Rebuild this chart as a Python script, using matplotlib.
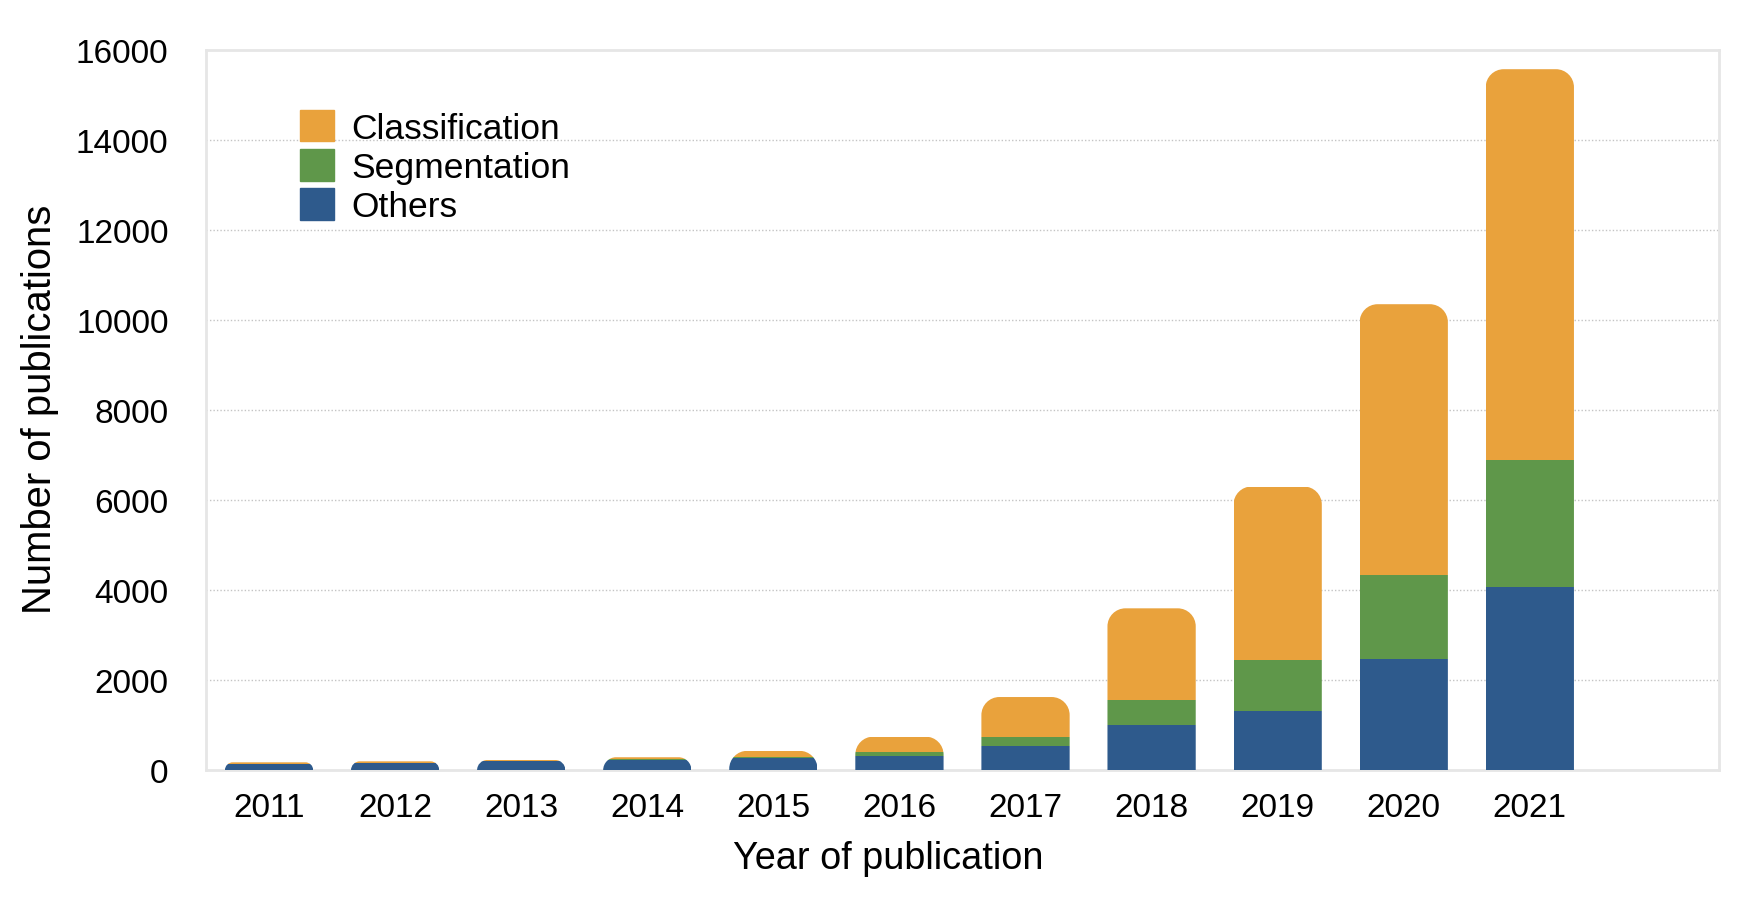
import numpy as np
import matplotlib
matplotlib.use("Agg")
import matplotlib.pyplot as plt
from matplotlib.patches import Patch
from matplotlib.path import Path
from matplotlib.transforms import IdentityTransform

plt.rcParams['font.family'] = ['Liberation Sans', 'DejaVu Sans']

# data
years = ['2011', '2012', '2013', '2014', '2015', '2016', '2017', '2018', '2019', '2020', '2021']
others = [128, 158, 195, 233, 280, 316, 541, 1012, 1320, 2466, 4069]
segmentation = [3, 4, 5, 8, 15, 90, 203, 540, 1128, 1870, 2819]
classification = [42, 33, 25, 45, 134, 338, 880, 2043, 3854, 6017, 8687]

c_others = '#2E5A8C'
c_seg = '#5F974A'
c_class = '#E9A23C'

fig = plt.figure(figsize=(17.46, 9.04), dpi=100)
ax = fig.add_axes([0.118, 0.147, 0.8665, 0.7965])

x = np.arange(len(years))
w = 0.7
others = np.array(others)
segmentation = np.array(segmentation)
classification = np.array(classification)

b1 = ax.bar(x, others, w, color=c_others, linewidth=0, zorder=3)
b2 = ax.bar(x, segmentation, w, bottom=others, color=c_seg, linewidth=0, zorder=3)
b3 = ax.bar(x, classification, w, bottom=others + segmentation, color=c_class,
            linewidth=0, zorder=3)

ax.set_xlim(-0.5, len(years) + 0.5)
ax.set_ylim(0, 16000)
ax.set_yticks(range(0, 16001, 2000))
ax.set_xticks(x)
ax.set_xticklabels(years)
ax.tick_params(axis='both', length=0, labelsize=24)
ax.tick_params(axis='y', pad=27)
ax.tick_params(axis='x', pad=16)

for v in range(2000, 16000, 2000):
    ax.axhline(v, color='#c4c4c4', lw=1.0, ls=(0, (1, 1.5)), zorder=1)

for s in ax.spines.values():
    s.set_color('#e6e6e6')
    s.set_linewidth(2)

# x label sits over the bars, not the middle of the axes
ax.set_xlabel('Year of publication', fontsize=27.3)
ax.xaxis.set_label_coords(0.451, -0.097)
ax.set_ylabel('Number of publications', fontsize=28.8)
ax.yaxis.set_label_coords(-0.0975, 0.503)

# rounded top corners on each stack
k = 0.5523
totals = others + segmentation + classification
for i in range(len(years)):
    (px0, py0) = ax.transData.transform((x[i] - w / 2, 0))
    (px1, py1) = ax.transData.transform((x[i] + w / 2, totals[i]))
    r = min(18, py1 - py0)
    verts = [(px0, py0 - 3), (px0, py1 - r),
             (px0, py1 - r + k * r), (px0 + r - k * r, py1), (px0 + r, py1),
             (px1 - r, py1),
             (px1 - r + k * r, py1), (px1, py1 - r + k * r), (px1, py1 - r),
             (px1, py0 - 3), (px0, py0 - 3)]
    codes = [Path.MOVETO, Path.LINETO,
             Path.CURVE4, Path.CURVE4, Path.CURVE4,
             Path.LINETO,
             Path.CURVE4, Path.CURVE4, Path.CURVE4,
             Path.LINETO, Path.CLOSEPOLY]
    clip = Path(verts, codes)
    for bars in (b1, b2, b3):
        bars[i].set_clip_path(clip, IdentityTransform())

handles = [Patch(color=c_class, label='Classification'),
           Patch(color=c_seg, label='Segmentation'),
           Patch(color=c_others, label='Others')]
ax.legend(handles=handles, loc='upper left', bbox_to_anchor=(0.053, 0.937),
          frameon=False, fontsize=25.5, handlelength=0.95, handleheight=1.0,
          handletextpad=0.5, labelspacing=0.12, borderaxespad=0)

fig.savefig('out.png', dpi=100)
